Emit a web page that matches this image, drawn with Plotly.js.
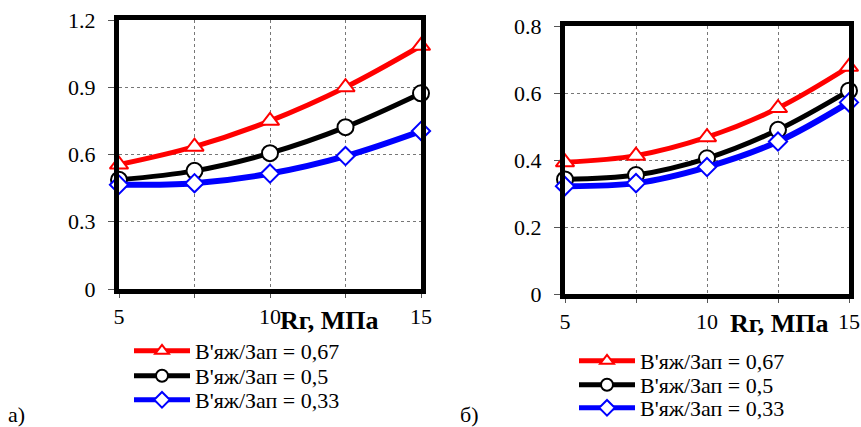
<!DOCTYPE html>
<html><head><meta charset="utf-8">
<script src="https://cdn.plot.ly/plotly-3.0.1.min.js"></script>
<style>html,body{margin:0;padding:0;background:#fff}#c{width:861px;height:427px}</style>
</head><body><div id="c"></div>
<script>
const xVals = [5, 7.5, 10, 12.5, 15];
const xTickVals = [5, 7.5, 10, 12.5, 15];
const xTickText = ['5', '', '10', '', '15'];
const names = ["В'яж/Зап = 0,67", "В'яж/Зап = 0,5", "В'яж/Зап = 0,33"];
// chart а)
const a067 = [0.555, 0.635, 0.75, 0.90, 1.085];
const a050 = [0.487, 0.527, 0.606, 0.722, 0.873];
const a033 = [0.465, 0.472, 0.515, 0.593, 0.705];
// chart б)
const b067 = [0.393, 0.413, 0.468, 0.555, 0.678];
const b050 = [0.342, 0.355, 0.405, 0.49, 0.607];
const b033 = [0.322, 0.331, 0.379, 0.455, 0.572];
const yTicksA = [0, 0.3, 0.6, 0.9, 1.2];
const yTicksB = [0, 0.2, 0.4, 0.6, 0.8];

const W = 861, H = 427;
const serif = 'Liberation Serif';
const styles = [
  {color: '#ff0000', symbol: 'triangle-up', size: 16, lw: 5},
  {color: '#000000', symbol: 'circle', size: 16, lw: 5},
  {color: '#0000ff', symbol: 'diamond', size: 14, lw: 6}
];
function tr(y, i, xa, ya, lg) {
  const s = styles[i];
  return {
    x: xVals, y: y, xaxis: xa, yaxis: ya, legend: lg, name: names[i],
    mode: 'lines+markers', cliponaxis: false,
    line: {color: s.color, width: s.lw, shape: 'spline', smoothing: 1},
    marker: {symbol: s.symbol, size: s.size, color: '#ffffff', line: {color: s.color, width: 2}}
  };
}
const data = [
  tr(a067, 0, 'x', 'y', 'legend'), tr(a050, 1, 'x', 'y', 'legend2'), tr(a033, 2, 'x', 'y', 'legend3'),
  tr(b067, 0, 'x2', 'y2', 'legend4'), tr(b050, 1, 'x2', 'y2', 'legend5'), tr(b033, 2, 'x2', 'y2', 'legend6')
];
function xax(d0, d1, anchor) {
  return {domain: [d0 / W, d1 / W], anchor: anchor, range: [5, 15], tickvals: xTickVals, ticktext: xTickText,
    showgrid: true, gridcolor: '#777', griddash: 'dot', gridwidth: 1,
    showline: true, mirror: true, linecolor: '#000', linewidth: 5,
    ticks: 'outside', ticklen: 4, tickcolor: '#555', tickwidth: 1, ticklabelstandoff: 0,
    tickfont: {family: serif, size: 22, color: '#000'}, zeroline: false, fixedrange: true};
}
function yax(top, bot, anchor, ticks) {
  return {domain: [1 - bot / H, 1 - top / H], anchor: anchor, range: [0, ticks[ticks.length - 1]], tickvals: ticks,
    ticktext: ticks.map(v => v === 0 ? '0' : v.toFixed(1)),
    showgrid: true, gridcolor: '#777', griddash: 'dot', gridwidth: 1,
    showline: true, mirror: true, linecolor: '#000', linewidth: 5,
    ticks: 'outside', ticklen: 6, tickcolor: '#555', tickwidth: 1, ticklabelstandoff: 8,
    tickfont: {family: serif, size: 22, color: '#000'}, zeroline: false, fixedrange: true};
}
const legFont = {family: serif, size: 22, color: '#000'};
function leg(x, yc) {
  return {x: x / W, y: 1 - yc / H, xanchor: 'left', yanchor: 'middle', font: legFont,
    bgcolor: 'rgba(0,0,0,0)', itemwidth: 56, tracegroupgap: 0, itemsizing: 'constant'};
}
const layout = {
  width: W, height: H, margin: {l: 0, r: 0, t: 0, b: 0, autoexpand: false},
  paper_bgcolor: '#fff', plot_bgcolor: '#fff', showlegend: true,
  xaxis: xax(119, 421, 'y'), yaxis: yax(20, 289, 'x', yTicksA),
  xaxis2: xax(565, 849, 'y2'), yaxis2: yax(26, 294, 'x2', yTicksB),
  legend: leg(129, 351), legend2: leg(129, 376), legend3: leg(129, 400),
  legend4: leg(574, 361), legend5: leg(574, 385), legend6: leg(574, 408),
  annotations: [
    {text: '<b>Rг, МПа</b>', xref: 'paper', yref: 'paper', x: 329 / W, y: 1 - 320 / H, showarrow: false,
      font: {family: serif, size: 26, color: '#000'}, xanchor: 'center', yanchor: 'middle'},
    {text: '<b>Rг, МПа</b>', xref: 'paper', yref: 'paper', x: 779 / W, y: 1 - 323 / H, showarrow: false,
      font: {family: serif, size: 26, color: '#000'}, xanchor: 'center', yanchor: 'middle'},
    {text: 'а)', xref: 'paper', yref: 'paper', x: 6 / W, y: 1 - 414 / H, showarrow: false,
      font: {family: serif, size: 22, color: '#000'}, xanchor: 'left', yanchor: 'middle'},
    {text: 'б)', xref: 'paper', yref: 'paper', x: 458 / W, y: 1 - 414 / H, showarrow: false,
      font: {family: serif, size: 22, color: '#000'}, xanchor: 'left', yanchor: 'middle'}
  ]
};
Plotly.newPlot('c', data, layout, {staticPlot: true, displayModeBar: false});
</script></body></html>
